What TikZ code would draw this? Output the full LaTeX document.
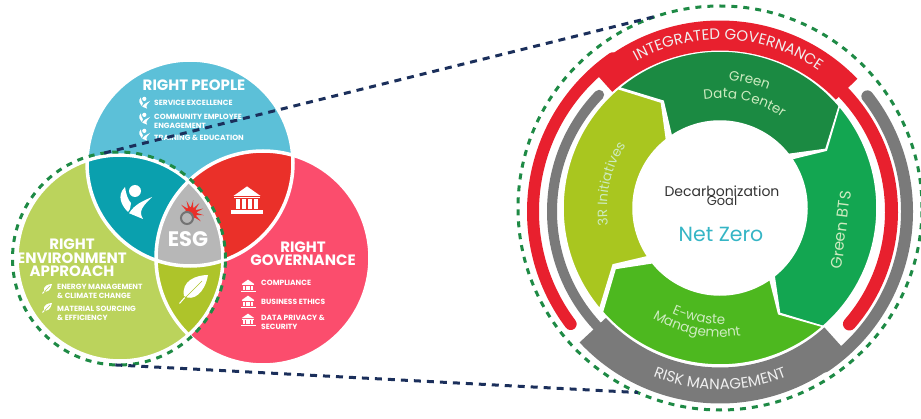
\documentclass[tikz,border=0pt]{standalone}
\usepackage{fontspec}
\usepackage{xcolor}
\setmainfont{Poppins}
\usetikzlibrary{decorations.text}

\definecolor{peopleblue}{HTML}{5CC0D8}
\definecolor{govpink}{HTML}{FB4D6D}
\definecolor{envgreen}{HTML}{BBD35C}
\definecolor{lensteal}{HTML}{0AA0AE}
\definecolor{lensred}{HTML}{EA3029}
\definecolor{lensolive}{HTML}{AEC42A}
\definecolor{esggray}{HTML}{B7B7B7}
\definecolor{ringred}{HTML}{E8202E}
\definecolor{ringgray}{HTML}{7A7A7A}
\definecolor{dashgreen}{HTML}{1E8A45}
\definecolor{dashnavy}{HTML}{1B2F5B}
\definecolor{datagreen}{HTML}{1B8A42}
\definecolor{btsgreen}{HTML}{13A651}
\definecolor{wastegreen}{HTML}{4DB81F}
\definecolor{threergreen}{HTML}{A9C61F}
\definecolor{seglabel}{HTML}{CDEBC0}
\definecolor{goaldark}{HTML}{333333}
\definecolor{netteal}{HTML}{35B5C5}

\newcommand{\seglabelfont}{\fontsize{13.5}{15}\selectfont\color{seglabel}}
\newcommand{\btsfont}{\fontsize{15.5}{17}\selectfont\color{seglabel}}
\newcommand{\bandfont}{\fontsize{15}{17}\selectfont\color{white!88!gray}}

\tikzset{
    venn/.style={circle, inner sep=0pt, outer sep=0pt},
    vennline/.style={draw=white, line width=3.5pt},
    heading/.style={text=white, align=center, font=\fontsize{15}{13.5}\selectfont\bfseries},
    listtext/.style={text=white, align=left, anchor=west, inner sep=0pt, font=\fontsize{7.5}{9}\selectfont\bfseries},
    seglabeltext/.style={decorate, decoration={text along path, text align=center, text={#1}}},
    templeicon/.pic={
        \fill[white] (-.85,.25) -- (0,.85) -- (.85,.25) -- cycle;
        \fill[white] (-.8,.1) rectangle (.8,.2);
        \foreach \colx in {-.58,-.19,.19,.58}
            \fill[white] (\colx-.13,-.55) rectangle (\colx+.13,.05);
        \fill[white] (-1,-.85) rectangle (1,-.65);
    },
    leaficon/.pic={
        \fill[white] (1,1) .. controls (.2,1) and (-.8,.6) .. (-.6,-.4) .. controls (0,-.8) and (.8,-.2) .. (1,1) -- cycle;
        \draw[#1, line width=.6pt] (.6,.6) -- (-.85,-.85);
        \draw[white, line width=1pt] (-.55,-.5) -- (-.9,-.9);
    },
    personicon/.pic={
        \fill[white] (-.1,.45) circle (.3);
        \fill[white] (-.6,.65) .. controls (-1.05,.2) and (-.75,-.3) .. (-.45,-.6) .. controls (-.3,-.45) and (-.35,-.3) .. (-.3,-.15) .. controls (-.45,0) and (-.55,.3) .. (-.6,.65) -- cycle;
        \fill[white] (.75,.15) .. controls (.3,-.05) and (-.1,-.2) .. (-.4,-.66) -- (.3,-.95) .. controls (.05,-.55) and (.3,-.3) .. (.75,.15) -- cycle;
    }
}

\begin{document}
\begin{tikzpicture}[x=1pt, y=1pt]
    \useasboundingbox (0,0) rectangle (921,418);

    % Venn circles
    \node[venn, fill=peopleblue, minimum size=206pt] (people) at (190,255) {};
    \node[venn, fill=govpink, minimum size=214pt] (gov) at (263,160) {};
    \node[venn, fill=envgreen, minimum size=206pt] (env) at (120,160) {};

    % Overlaps
    \begin{scope}
        \clip (people.center) circle (103);
        \fill[lensteal] (env.center) circle (103);
    \end{scope}
    \begin{scope}
        \clip (people.center) circle (103);
        \fill[lensred] (gov.center) circle (107);
    \end{scope}
    \begin{scope}
        \clip (env.center) circle (103);
        \fill[lensolive] (gov.center) circle (107);
    \end{scope}
    \begin{scope}
        \clip (people.center) circle (103);
        \clip (env.center) circle (103);
        \fill[esggray] (gov.center) circle (107);
    \end{scope}
    \draw[vennline] (people.center) circle (103);
    \draw[vennline] (gov.center) circle (107);
    \draw[vennline] (env.center) circle (103);

    % Right People
    \node[heading] (peoplehead) at (194,333) {RIGHT PEOPLE};
    \pic[scale=7] (peopleb1) at (145,316) {personicon};
    \pic[scale=7] (peopleb2) at (145,300) {personicon};
    \pic[scale=7] (peopleb3) at (145,284) {personicon};
    \node[listtext] (service) at (154,315) {SERVICE EXCELLENCE};
    \node[listtext] (community) at (154,296.5) {COMMUNITY EMPLOYEE\\ENGAGEMENT};
    \node[listtext] (training) at (154,280) {TRAINING \& EDUCATION};

    % Right Environment
    \node[heading] (envhead) at (72,160) {RIGHT\\ENVIRONMENT\\APPROACH};
    \pic[scale=5] (envb1) at (47,129) {leaficon=envgreen};
    \pic[scale=5] (envb2) at (47,110) {leaficon=envgreen};
    \node[listtext] (energy) at (57,126.5) {ENERGY MANAGEMENT\\\& CLIMATE CHANGE};
    \node[listtext] (material) at (57,104.5) {MATERIAL SOURCING\\\& EFFICIENCY};

    % Right Governance
    \node[heading] (govhead) at (303,164.5) {RIGHT\\GOVERNANCE};
    \pic[scale=7.5] (govb1) at (248,132) {templeicon};
    \pic[scale=7.5] (govb2) at (248,116) {templeicon};
    \pic[scale=7.5] (govb3) at (248,98) {templeicon};
    \node[listtext] (compliance) at (261,135) {COMPLIANCE};
    \node[listtext] (ethics) at (261,116) {BUSINESS ETHICS};
    \node[listtext] (privacy) at (261,95.5) {DATA PRIVACY \&\\SECURITY};

    % Overlap icons
    \pic[scale=20] (personbig) at (137,218) {personicon};
    \pic[scale=16] (templebig) at (247,218) {templeicon};
    \pic[scale=15] (leafbig) at (193,128) {leaficon=lensolive};
    \begin{scope}[shift={(191,205)}]
        \foreach \rayang in {-40,-10,...,140}
            \fill[lensred] (\rayang-14:5) -- (\rayang:13) -- (\rayang+14:5) -- cycle;
        \fill[lensred] (0,0) circle (6);
        \fill[esggray] (-3,-4) circle (5.5);
        \draw[black!55, line width=2pt] (-4,-5) circle (6);
    \end{scope}
    \node[font=\fontsize{21}{22}\selectfont\bfseries, text=white] (esg) at (188,179) {ESG};

    % Net zero ring
    \node[circle, draw=dashgreen, line width=3pt, dash pattern=on 6pt off 6pt, minimum size=404pt, inner sep=0pt, outer sep=0pt] (netring) at (720,210) {};
    \node[venn, draw=dashgreen, line width=3pt, dash pattern=on 6pt off 6pt, minimum size=213pt] (envring) at (119,159.5) {};

    \begin{scope}[shift={(720,210)}]
        % Green segments
        \foreach \segang/\segcol in {130/datagreen, 40.5/btsgreen, -49/wastegreen, 220/threergreen}
            \fill[\segcol, draw=white, line width=1.5pt, line join=miter]
                (\segang:157) arc[start angle=\segang, delta angle=-89.5, radius=157]
                -- ({\segang-101}:121) -- ({\segang-92}:87)
                arc[start angle=\segang-92, delta angle=86, radius=87]
                -- ({\segang-12}:121) -- cycle;

        % Curved labels
        \path[seglabeltext={|\seglabelfont|Green}] (112:128) arc[start angle=112, end angle=42, radius=128];
        \path[seglabeltext={|\seglabelfont|Data Center}] (117:110) arc[start angle=117, end angle=37, radius=110];
        \path[seglabeltext={|\seglabelfont|E-waste}] (-141:116) arc[start angle=-141, end angle=-61, radius=116];
        \path[seglabeltext={|\seglabelfont|Management}] (-141:129) arc[start angle=-141, end angle=-61, radius=129];
        \path[seglabeltext={|\seglabelfont|3R Initiatives}] (212:113) arc[start angle=212, end angle=123, radius=113];
    \end{scope}
    \node[rotate=83, inner sep=0pt, font=\btsfont] (btslabel) at (841,188) {Green BTS};

    \begin{scope}[shift={(720,206.5)}]
        % Integrated governance band
        \fill[ringred] (132:161) arc[start angle=132, end angle=44, radius=161]
            -- (44:191) arc[start angle=44, end angle=132, radius=191] -- cycle;
        \draw[ringred, line width=12pt, line cap=round] (125:187) arc[start angle=125, end angle=217, radius=187];
        \draw[ringred, line width=13pt, line cap=round] (52:171.5) arc[start angle=52, end angle=-41, radius=171.5];

        % Risk management band
        \fill[ringgray] (223:156) arc[start angle=223, end angle=312, radius=156]
            -- (312:192) arc[start angle=312, end angle=223, radius=192] -- cycle;
        \draw[ringgray, line width=10pt, line cap=round] (232:168) arc[start angle=232, end angle=136, radius=168];
        \draw[ringgray, line width=12pt, line cap=round] (-56:187) arc[start angle=-56, end angle=38, radius=187];

        \path[seglabeltext={|\bandfont|INTEGRATED GOVERNANCE}] (150:172) arc[start angle=150, end angle=24, radius=172];
        \path[seglabeltext={|\bandfont|RISK MANAGEMENT}] (225:178) arc[start angle=225, end angle=315, radius=178];
    \end{scope}

    % Centre text
    \node[text=goaldark, font=\fontsize{14}{15}\selectfont] (decarb) at (722,227) {Decarbonization};
    \node[text=goaldark, font=\fontsize{13}{14}\selectfont] (goal) at (722,217) {Goal};
    \node[text=netteal, font=\fontsize{20.5}{22}\selectfont] (netzero) at (721,184) {Net Zero};

    % Zoom lines
    \draw[dashnavy, line width=3pt, dash pattern=on 7pt off 6pt] (envring.98) -- (netring.108);
    \draw[dashnavy, line width=3pt, dash pattern=on 7pt off 6pt] (envring.268) -- (netring.246);
\end{tikzpicture}
\end{document}
